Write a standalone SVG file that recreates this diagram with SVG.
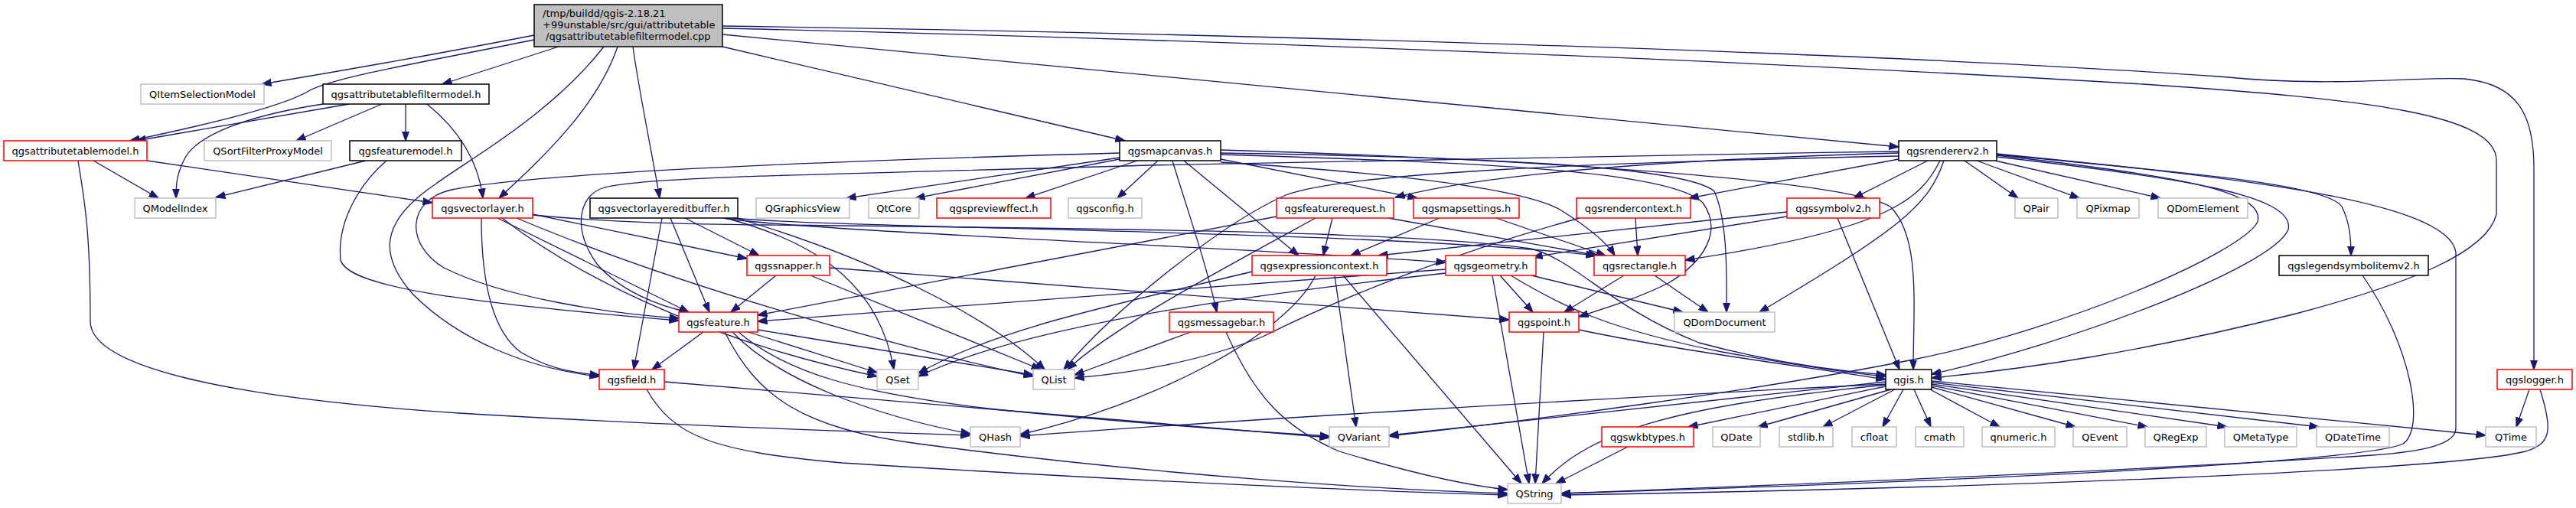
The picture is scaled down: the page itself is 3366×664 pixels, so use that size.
<svg xmlns="http://www.w3.org/2000/svg" width="3366" height="664" viewBox="0 0 3366 664">
<style>
.e{fill:none;stroke:#191970;stroke-width:1.3;marker-end:url(#a)}
rect{fill:#fff;stroke-width:1.5}
.k rect{stroke:#000}
.r rect{stroke:#ff0000}
.g rect{stroke:#bfbfbf}
.root rect{fill:#bfbfbf;stroke:#000}
text{font-family:"DejaVu Sans","Liberation Sans",sans-serif;font-size:13px;fill:#000;text-anchor:middle}
.root text{text-anchor:start}
</style>
<defs>
<marker id="a" viewBox="0 0 13 10" refX="12.5" refY="5" markerWidth="13" markerHeight="10" markerUnits="userSpaceOnUse" orient="auto">
<path d="M0,0.4 L13,5 L0,9.6 z" fill="#191970" stroke="#191970" stroke-width="1"/>
</marker>
</defs>
<rect x="0" y="0" width="3366" height="664" style="fill:#fff;stroke:none"/>
<g id="edges">
<path class="e" d="M698,46 C600,65 450,92 342,110"/>
<path class="e" d="M698,52 C560,80 440,100 405,118 C370,140 260,165 170,184"/>
<path class="e" d="M730,61 L578,110"/>
<path class="e" d="M807,61 C780,140 710,205 652,259"/>
<path class="e" d="M827,61 C835,120 852,200 862,259"/>
<path class="e" d="M789,61 C720,150 610,210 570,240 C495,290 495,335 540,385 C600,445 690,482 783,492"/>
<path class="e" d="M944,61 L1470,184"/>
<path class="e" d="M944,45 L2481,192"/>
<path class="e" d="M944,34 C1500,42 2400,65 2900,100 C3050,115 3150,100 3220,103 C3290,110 3311,150 3311,220 L3311,483"/>
<path class="e" d="M944,37 C1600,52 2300,80 2800,110 C3100,130 3262,150 3262,210 L3262,280 C3250,330 3150,370 3000,410 C2800,460 2650,482 2524,494"/>
<path class="e" d="M456,136 L178,184"/>
<path class="e" d="M422,136 C330,150 255,175 240,210 C230,230 230,245 230,259"/>
<path class="e" d="M499,136 L387,184"/>
<path class="e" d="M530,136 L530,184"/>
<path class="e" d="M558,136 C600,170 625,210 631,259"/>
<path class="e" d="M122,210 L207,259"/>
<path class="e" d="M192,210 L565,265"/>
<path class="e" d="M102,210 C110,260 118,300 118,420 C118,480 300,520 600,540 C900,558 1150,565 1268,569"/>
<path class="e" d="M478,210 L282,258"/>
<path class="e" d="M505,210 C470,240 440,290 445,340 C455,375 600,395 887,419"/>
<path class="e" d="M1463,206 L1106,259"/>
<path class="e" d="M1463,208 L1196,259"/>
<path class="e" d="M1486,210 L1340,259"/>
<path class="e" d="M1513,210 L1460,259"/>
<path class="e" d="M1532,210 C1550,270 1575,340 1590,408"/>
<path class="e" d="M1547,210 L1697,334"/>
<path class="e" d="M1595,208 L1852,259"/>
<path class="e" d="M1595,212 C1800,225 1990,245 2040,275 C2080,300 2100,318 2110,334"/>
<path class="e" d="M1595,202 C1900,212 2180,220 2225,265 C2250,300 2230,340 2180,370 C2140,390 2100,402 2063,414"/>
<path class="e" d="M1595,200 C1900,205 2200,215 2240,250 C2258,290 2256,360 2256,408"/>
<path class="e" d="M1595,196 C1900,205 2400,230 2470,270 C2510,310 2500,400 2500,483"/>
<path class="e" d="M1463,200 C1100,210 700,225 590,248 C530,262 530,320 580,350 C660,390 800,410 887,416"/>
<path class="e" d="M2481,200 C2200,208 1950,225 1823,258"/>
<path class="e" d="M2481,198 C2100,203 1700,210 1500,216 C1100,228 850,230 790,245 C755,255 748,300 780,345 C810,380 860,400 900,408"/>
<path class="e" d="M2481,204 C2100,212 1760,225 1680,255 C1600,290 1460,400 1390,483"/>
<path class="e" d="M2481,208 L2207,259"/>
<path class="e" d="M2519,210 L2422,259"/>
<path class="e" d="M2535,210 C2510,260 2470,300 2202,340"/>
<path class="e" d="M2540,210 C2520,270 2480,300 2299,408"/>
<path class="e" d="M2567,210 L2637,259"/>
<path class="e" d="M2583,210 L2717,259"/>
<path class="e" d="M2607,210 L2823,259"/>
<path class="e" d="M2609,202 C2850,225 3040,240 3060,270 C3070,290 3072,310 3072,334"/>
<path class="e" d="M2609,203 C2850,230 2960,250 2950,290 C2930,330 2700,430 2500,470 C2300,510 2000,550 1815,570"/>
<path class="e" d="M2609,205 C2850,232 3000,255 2990,300 C2970,350 2700,450 2524,489"/>
<path class="e" d="M2609,201 C2900,230 3200,260 3209,330 L3209,560 C3209,580 3170,590 3100,595 C2800,615 2300,635 2040,645"/>
<path class="e" d="M2401,285 L2482,483"/>
<path class="e" d="M2335,277 L1801,334"/>
<path class="e" d="M2335,283 L2003,336"/>
<path class="e" d="M2137,285 L2140,334"/>
<path class="e" d="M2064,285 C1900,330 1750,390 1650,440 C1550,480 1450,490 1404,494"/>
<path class="e" d="M1741,285 L1729,334"/>
<path class="e" d="M1814,285 L2088,334"/>
<path class="e" d="M1719,285 C1600,350 1450,430 1395,483"/>
<path class="e" d="M1668,283 L990,412"/>
<path class="e" d="M1881,285 L1765,334"/>
<path class="e" d="M1955,285 L2098,334"/>
<path class="e" d="M1636,355 C1450,400 1300,430 1200,488"/>
<path class="e" d="M1719,360 C1680,440 1500,530 1333,568"/>
<path class="e" d="M1744,360 L1772,558"/>
<path class="e" d="M1755,360 L1988,632"/>
<path class="e" d="M1889,352 L990,420"/>
<path class="e" d="M1889,357 C1680,380 1350,420 1200,492"/>
<path class="e" d="M1950,360 L1998,632"/>
<path class="e" d="M1960,360 L2003,408"/>
<path class="e" d="M1974,360 C2040,400 2100,430 2250,460 C2350,478 2420,488 2464,492"/>
<path class="e" d="M2001,360 L2199,408"/>
<path class="e" d="M2122,360 L2044,408"/>
<path class="e" d="M2162,360 L2232,408"/>
<path class="e" d="M2017,434 L2006,632"/>
<path class="e" d="M2063,431 C2200,460 2380,482 2464,496"/>
<path class="e" d="M1014,360 L955,408"/>
<path class="e" d="M1059,360 L1360,483"/>
<path class="e" d="M1084,350 L1972,418"/>
<path class="e" d="M919,434 L852,483"/>
<path class="e" d="M978,434 L1146,487"/>
<path class="e" d="M990,431 L1350,490"/>
<path class="e" d="M957,434 C1020,500 1150,545 1268,567"/>
<path class="e" d="M965,434 C1030,490 1130,515 1300,535 C1500,555 1650,565 1737,570"/>
<path class="e" d="M947,434 C990,520 1050,560 1200,580 C1500,620 1800,640 1970,645"/>
<path class="e" d="M868,499 L1737,572"/>
<path class="e" d="M845,509 C880,570 930,590 1100,605 C1500,630 1800,642 1970,647"/>
<path class="e" d="M629,285 C629,360 640,430 680,460 C710,478 740,487 783,490"/>
<path class="e" d="M650,285 L900,408"/>
<path class="e" d="M696,280 L976,338"/>
<path class="e" d="M656,285 C740,350 900,440 1146,492"/>
<path class="e" d="M675,285 C900,380 1200,460 1350,492"/>
<path class="e" d="M696,281 C800,291 900,293 1000,294 C1400,298 1850,302 2000,325 C2060,340 2100,400 2220,448 C2320,475 2400,485 2464,490"/>
<path class="e" d="M865,285 L828,483"/>
<path class="e" d="M876,285 L927,408"/>
<path class="e" d="M895,285 L992,334"/>
<path class="e" d="M948,285 C1080,320 1150,380 1168,483"/>
<path class="e" d="M962,285 C1150,340 1300,420 1365,483"/>
<path class="e" d="M945,285 C1050,302 1600,322 1889,343"/>
<path class="e" d="M958,285 C1100,299 1800,301 2085,334"/>
<path class="e" d="M1556,434 L1404,490"/>
<path class="e" d="M1602,434 C1640,520 1680,560 1750,590 C1850,620 1920,635 1970,640"/>
<path class="e" d="M2464,499 L1815,569"/>
<path class="e" d="M2464,502 C2100,520 1600,550 1333,570"/>
<path class="e" d="M2464,503 C2200,530 2080,560 2015,632"/>
<path class="e" d="M2464,505 L2206,558"/>
<path class="e" d="M2471,509 L2297,558"/>
<path class="e" d="M2476,509 L2382,558"/>
<path class="e" d="M2487,509 L2460,558"/>
<path class="e" d="M2501,509 L2523,558"/>
<path class="e" d="M2522,509 L2613,558"/>
<path class="e" d="M2524,506 L2712,558"/>
<path class="e" d="M2524,504 L2806,558"/>
<path class="e" d="M2524,502 L2910,558"/>
<path class="e" d="M2524,500 L3030,558"/>
<path class="e" d="M2524,498 L3248,569"/>
<path class="e" d="M2127,584 L2033,632"/>
<path class="e" d="M3087,360 C3150,450 3170,560 3140,580 C3100,600 2700,625 2040,645"/>
<path class="e" d="M3305,509 L3288,558"/>
<path class="e" d="M3319,509 C3335,560 3335,580 3300,590 C3200,615 2600,638 2040,647"/>
</g>
<g id="root" class="root"><rect x="698" y="6" width="246" height="55"/><text x="709" y="22">/tmp/buildd/qgis-2.18.21</text><text x="709" y="37">+99unstable/src/gui/attributetable</text><text x="713" y="52">/qgsattributetablefiltermodel.cpp</text></g>
<g id="QItemSelectionModel" class="g"><rect x="184" y="110" width="161" height="26"/><text x="264.5" y="127.5">QItemSelectionModel</text></g>
<g id="qgsattributetablefiltermodel" class="k"><rect x="422" y="110" width="217" height="26"/><text x="530.5" y="127.5">qgsattributetablefiltermodel.h</text></g>
<g id="qgsattributetablemodel" class="r"><rect x="5" y="184" width="187" height="26"/><text x="98.5" y="201.5">qgsattributetablemodel.h</text></g>
<g id="QSortFilterProxyModel" class="g"><rect x="267" y="184" width="166" height="26"/><text x="350" y="201.5">QSortFilterProxyModel</text></g>
<g id="qgsfeaturemodel" class="k"><rect x="457" y="184" width="146" height="26"/><text x="530" y="201.5">qgsfeaturemodel.h</text></g>
<g id="qgsmapcanvas" class="k"><rect x="1463" y="184" width="132" height="26"/><text x="1529" y="201.5">qgsmapcanvas.h</text></g>
<g id="qgsrendererv2" class="k"><rect x="2481" y="184" width="128" height="26"/><text x="2545" y="201.5">qgsrendererv2.h</text></g>
<g id="QModelIndex" class="g"><rect x="176" y="259" width="106" height="26"/><text x="229" y="276.5">QModelIndex</text></g>
<g id="qgsvectorlayer" class="r"><rect x="565" y="259" width="131" height="26"/><text x="630.5" y="276.5">qgsvectorlayer.h</text></g>
<g id="qgsvectorlayereditbuffer" class="k"><rect x="771" y="259" width="193" height="26"/><text x="867.5" y="276.5">qgsvectorlayereditbuffer.h</text></g>
<g id="QGraphicsView" class="g"><rect x="988" y="259" width="122" height="26"/><text x="1049" y="276.5">QGraphicsView</text></g>
<g id="QtCore" class="g"><rect x="1135" y="259" width="66" height="26"/><text x="1168" y="276.5">QtCore</text></g>
<g id="qgspreviewffect" class="r"><rect x="1224" y="259" width="149" height="26"/><text x="1298.5" y="276.5">qgspreviewffect.h</text></g>
<g id="qgsconfig" class="g"><rect x="1396" y="259" width="96" height="26"/><text x="1444" y="276.5">qgsconfig.h</text></g>
<g id="qgsfeaturerequest" class="r"><rect x="1668" y="259" width="153" height="26"/><text x="1744.5" y="276.5">qgsfeaturerequest.h</text></g>
<g id="qgsmapsettings" class="r"><rect x="1847" y="259" width="138" height="26"/><text x="1916" y="276.5">qgsmapsettings.h</text></g>
<g id="qgsrendercontext" class="r"><rect x="2060" y="259" width="149" height="26"/><text x="2134.5" y="276.5">qgsrendercontext.h</text></g>
<g id="qgssymbolv2" class="r"><rect x="2335" y="259" width="121" height="26"/><text x="2395.5" y="276.5">qgssymbolv2.h</text></g>
<g id="QPair" class="g"><rect x="2633" y="259" width="56" height="26"/><text x="2661" y="276.5">QPair</text></g>
<g id="QPixmap" class="g"><rect x="2714" y="259" width="81" height="26"/><text x="2754.5" y="276.5">QPixmap</text></g>
<g id="QDomElement" class="g"><rect x="2820" y="259" width="117" height="26"/><text x="2878.5" y="276.5">QDomElement</text></g>
<g id="qgssnapper" class="r"><rect x="976" y="334" width="108" height="26"/><text x="1030" y="351.5">qgssnapper.h</text></g>
<g id="qgsexpressioncontext" class="r"><rect x="1636" y="334" width="176" height="26"/><text x="1724" y="351.5">qgsexpressioncontext.h</text></g>
<g id="qgsgeometry" class="r"><rect x="1889" y="334" width="118" height="26"/><text x="1948" y="351.5">qgsgeometry.h</text></g>
<g id="qgsrectangle" class="r"><rect x="2083" y="334" width="119" height="26"/><text x="2142.5" y="351.5">qgsrectangle.h</text></g>
<g id="qgslegendsymbolitemv2" class="k"><rect x="2978" y="334" width="195" height="26"/><text x="3075.5" y="351.5">qgslegendsymbolitemv2.h</text></g>
<g id="qgsfeature" class="r"><rect x="887" y="408" width="103" height="26"/><text x="938.5" y="425.5">qgsfeature.h</text></g>
<g id="qgsmessagebar" class="r"><rect x="1528" y="408" width="136" height="26"/><text x="1596" y="425.5">qgsmessagebar.h</text></g>
<g id="qgspoint" class="r"><rect x="1972" y="408" width="91" height="26"/><text x="2017.5" y="425.5">qgspoint.h</text></g>
<g id="QDomDocument" class="g"><rect x="2188" y="408" width="131" height="26"/><text x="2253.5" y="425.5">QDomDocument</text></g>
<g id="qgsfield" class="r"><rect x="783" y="483" width="85" height="26"/><text x="825.5" y="500.5">qgsfield.h</text></g>
<g id="QSet" class="g"><rect x="1146" y="483" width="54" height="26"/><text x="1173" y="500.5">QSet</text></g>
<g id="QList" class="g"><rect x="1350" y="483" width="54" height="26"/><text x="1377" y="500.5">QList</text></g>
<g id="qgis" class="k"><rect x="2464" y="483" width="60" height="26"/><text x="2494" y="500.5">qgis.h</text></g>
<g id="qgslogger" class="r"><rect x="3263" y="483" width="98" height="26"/><text x="3312" y="500.5">qgslogger.h</text></g>
<g id="QHash" class="g"><rect x="1268" y="558" width="65" height="26"/><text x="1300.5" y="575.5">QHash</text></g>
<g id="QVariant" class="g"><rect x="1737" y="558" width="78" height="26"/><text x="1776" y="575.5">QVariant</text></g>
<g id="qgswkbtypes" class="r"><rect x="2093" y="558" width="120" height="26"/><text x="2153" y="575.5">qgswkbtypes.h</text></g>
<g id="QDate" class="g"><rect x="2238" y="558" width="62" height="26"/><text x="2269" y="575.5">QDate</text></g>
<g id="stdlib" class="g"><rect x="2325" y="558" width="70" height="26"/><text x="2360" y="575.5">stdlib.h</text></g>
<g id="cfloat" class="g"><rect x="2420" y="558" width="58" height="26"/><text x="2449" y="575.5">cfloat</text></g>
<g id="cmath" class="g"><rect x="2503" y="558" width="63" height="26"/><text x="2534.5" y="575.5">cmath</text></g>
<g id="qnumeric" class="g"><rect x="2590" y="558" width="95" height="26"/><text x="2637.5" y="575.5">qnumeric.h</text></g>
<g id="QEvent" class="g"><rect x="2709" y="558" width="70" height="26"/><text x="2744" y="575.5">QEvent</text></g>
<g id="QRegExp" class="g"><rect x="2803" y="558" width="80" height="26"/><text x="2843" y="575.5">QRegExp</text></g>
<g id="QMetaType" class="g"><rect x="2907" y="558" width="94" height="26"/><text x="2954" y="575.5">QMetaType</text></g>
<g id="QDateTime" class="g"><rect x="3027" y="558" width="95" height="26"/><text x="3074.5" y="575.5">QDateTime</text></g>
<g id="QTime" class="g"><rect x="3248" y="558" width="66" height="26"/><text x="3281" y="575.5">QTime</text></g>
<g id="QString" class="g"><rect x="1970" y="632" width="70" height="26"/><text x="2005" y="649.5">QString</text></g>
</svg>
